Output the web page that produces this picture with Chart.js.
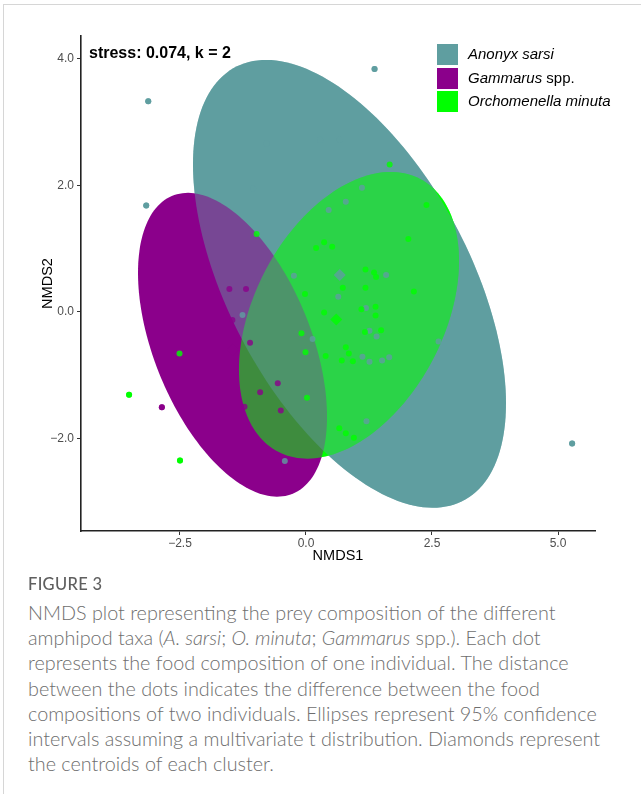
<!DOCTYPE html>
<html>
<head>
<meta charset="utf-8">
<script src="https://cdn.jsdelivr.net/npm/chart.js@4.4.1/dist/chart.umd.min.js"></script>
<style>
html,body{margin:0;padding:0;background:#fff;}
body{width:641px;height:794px;position:relative;overflow:hidden;font-family:"Liberation Sans",Arial,sans-serif;}
#frame{position:absolute;left:3px;top:4px;width:640px;height:792px;border-left:1px solid #d6d6d6;border-top:1px solid #d6d6d6;}
#chart{position:absolute;left:0;top:0;}
.stress{position:absolute;left:89px;top:45px;font:bold 16px/16px "Liberation Sans",Arial,sans-serif;color:#000;white-space:nowrap;}
.legbox{position:absolute;left:437px;width:21px;height:21px;}
.legtxt{position:absolute;left:468px;font:15px/15px "Liberation Sans",Arial,sans-serif;color:#000;white-space:nowrap;}
.fig{position:absolute;left:28px;top:575px;font:500 16.5px/18px "Lato","Open Sans",sans-serif;color:#5f5f5f;letter-spacing:0.3px;}
.cap{position:absolute;left:28px;top:600px;font:300 19.8px/25.2px "Lato","Open Sans",sans-serif;color:#6e6e6e;white-space:nowrap;}
</style>
</head>
<body>
<div id="frame"></div>
<canvas id="chart" width="641" height="575"></canvas>
<div class="stress">stress: 0.074, k = 2</div>
<div class="legbox" style="top:44px;background:rgb(95,158,160)"></div>
<div class="legbox" style="top:67.5px;background:rgb(139,0,139)"></div>
<div class="legbox" style="top:91px;background:rgb(0,255,0)"></div>
<div class="legtxt" style="top:46.3px"><i>Anonyx sarsi</i></div>
<div class="legtxt" style="top:69.8px"><i>Gammarus</i> spp.</div>
<div class="legtxt" style="top:93.3px"><i>Orchomenella minuta</i></div>
<div class="fig">FIGURE 3</div>
<div class="cap">NMDS plot representing the prey composition of the different<br>amphipod taxa (<i>A. sarsi</i>; <i>O. minuta</i>; <i>Gammarus</i> spp.). Each dot<br>represents the food composition of one individual. The distance<br>between the dots indicates the difference between the food<br>compositions of two individuals. Ellipses represent 95% confidence<br>intervals assuming a multivariate t distribution. Diamonds represent<br>the centroids of each cluster.</div>
<script>
// ---- data ----
const groups = ['Anonyx sarsi', 'Gammarus spp.', 'Orchomenella minuta'];

const anonyxX = [1.36, -3.13, -3.17, 1.11, 0.79, 0.45, 1.59, -0.24, 0.64, -1.26, 1.19, 1.26, 1.40, 0.13, 1.12, 1.26, 1.51, 1.65, 2.63, 1.20, -0.42, 5.28, -0.78, 0.28, 0.67, -1.05];
const anonyxY = [3.84, 3.33, 1.68, 1.96, 1.74, 1.61, 0.58, 0.57, 0.24, -0.05, 0.06, -0.30, -0.39, -0.43, -0.71, -0.79, -0.77, -0.72, -0.47, -1.73, -2.36, -2.08, 2.66, 2.72, 2.72, 1.95];

const gammarusX = [-1.52, -1.19, -1.46, -1.11, -0.56, -0.91, -1.22, -0.50, -2.86];
const gammarusY = [0.36, 0.36, -0.13, -0.49, -1.13, -1.27, -1.50, -1.56, -1.51];

const orchoX = [1.66, 2.39, -0.98, 0.36, 0.20, 0.52, 2.03, 1.18, 1.35, 1.39, 0.73, 1.18, 2.14, -0.02, 0.36, 1.10, 1.38, 1.38, 1.17, 1.49, -0.09, -0.01, 0.79, 0.85, 0.39, 0.71, 0.93, 0.02, 0.66, 0.79, 0.95, -2.51, -3.51, -2.50];
const orchoY = [2.33, 1.69, 1.23, 1.10, 1.01, 1.03, 1.15, 0.67, 0.62, 0.55, 0.38, 0.38, 0.32, 0.28, -0.01, 0.04, 0.08, -0.06, -0.32, -0.29, -0.34, -0.64, -0.56, -0.66, -0.70, -0.77, -0.78, -1.36, -1.84, -1.92, -1.99, -0.66, -1.31, -2.35];

// centroids (diamonds): Anonyx, Gammarus, Orchomenella
const centroidX = [0.67, -1.45, 0.60];
const centroidY = [0.58, -0.60, -0.12];

// 95% ellipses: centre and two conjugate semi-axis vectors (data units)
const ellipseCx = [0.863, -1.458, 0.853];
const ellipseCy = [0.442, -0.521, -0.055];
const ellipseAx = [3.105, 1.875, 2.183];
const ellipseAy = [-1.888, -1.137, 0.861];
const ellipseBx = [0.0, 0.0, 0.0];
const ellipseBy = [-2.994, -2.115, -2.096];

const xTickValues = [-2.5, 0, 2.5, 5.0];
const xTickLabels = ['\u22122.5', '0.0', '2.5', '5.0'];
const yTickValues = [-2, 0, 2, 4];
const yTickLabels = ['\u22122.0', '0.0', '2.0', '4.0'];

// ---- styling ----
const rgb = {teal: [95,158,160], purple: [139,0,139], green: [0,255,0]};
const col = (c, a) => `rgba(${c[0]},${c[1]},${c[2]},${a})`;

function pts(xs, ys) { return xs.map((x, i) => ({x: x, y: ys[i]})); }
function ellipseOutline(i) {
  const out = [];
  const n = 180;
  for (let k = 0; k <= n; k++) {
    const t = 2 * Math.PI * k / n;
    out.push({
      x: ellipseCx[i] + ellipseAx[i] * Math.cos(t) + ellipseBx[i] * Math.sin(t),
      y: ellipseCy[i] + ellipseAy[i] * Math.cos(t) + ellipseBy[i] * Math.sin(t)
    });
  }
  return out;
}
function ellipseDs(i, color, alpha, composite, order) {
  return {type: 'line', data: ellipseOutline(i), fill: 'shape', backgroundColor: col(color, alpha),
    borderColor: 'rgba(0,0,0,0)', borderWidth: 0, borderDash: [1, 1], pointRadius: 0, pointHoverRadius: 0, pointHitRadius: 0,
    tension: 0, showLine: true, composite: composite, order: order};
}
function pointDs(xs, ys, color, alpha, composite, order) {
  return {type: 'scatter', data: pts(xs, ys), backgroundColor: col(color, alpha), borderWidth: 0,
    pointRadius: 3, pointHoverRadius: 3, composite: composite, order: order};
}
const centroidColors = [rgb.teal, rgb.purple, rgb.green];
function centroidDs(alpha, composite, order) {
  return {type: 'scatter', data: pts(centroidX, centroidY), backgroundColor: centroidColors.map(c => col(c, alpha)),
    borderWidth: 0, pointStyle: 'rectRot', pointRadius: 6, pointHoverRadius: 6, composite: composite, order: order};
}

// later layers: opaque where nothing is drawn yet, blended where they overlap earlier layers
const compositePlugin = {
  id: 'composite',
  beforeDatasetsDraw(chart) {
    const metas = chart.getSortedVisibleDatasetMetas().slice().reverse();
    chart.ctx.globalCompositeOperation = metas.length ? (chart.data.datasets[metas[0].index].composite || 'source-over') : 'source-over';
  },
  afterDatasetDraw(chart, args) {
    const metas = chart.getSortedVisibleDatasetMetas().slice().reverse();
    const i = metas.indexOf(args.meta);
    const next = metas[i + 1];
    chart.ctx.globalCompositeOperation = next ? (chart.data.datasets[next.index].composite || 'source-over') : 'source-over';
  },
  afterDatasetsDraw(chart) { chart.ctx.globalCompositeOperation = 'source-over'; }
};

const datasets = [
  // drawn from highest order to lowest
  ellipseDs(1, rgb.purple, 1, 'source-over', 20),
  ellipseDs(2, rgb.green, 1, 'destination-over', 19),
  ellipseDs(2, rgb.green, 0.55, 'source-over', 18),
  ellipseDs(0, rgb.teal, 1, 'destination-over', 17),
  ellipseDs(0, rgb.teal, 0.45, 'source-over', 16),
  pointDs(anonyxX, anonyxY, rgb.teal, 1, 'destination-over', 15),
  pointDs(anonyxX, anonyxY, rgb.teal, 0.8, 'source-over', 14),
  pointDs(gammarusX, gammarusY, rgb.purple, 1, 'destination-over', 13),
  pointDs(gammarusX, gammarusY, rgb.purple, 0.8, 'source-over', 12),
  pointDs(orchoX, orchoY, rgb.green, 1, 'destination-over', 11),
  pointDs(orchoX, orchoY, rgb.green, 0.8, 'source-over', 10),
  centroidDs(1, 'destination-over', 9),
  centroidDs(0.8, 'source-over', 8)
];

const tickFont = {family: 'Liberation Sans', size: 12};
const titleFont = {family: 'Liberation Sans', size: 14.5};

new Chart(document.getElementById('chart'), {
  type: 'scatter',
  data: {datasets: datasets},
  plugins: [compositePlugin],
  options: {
    responsive: false,
    devicePixelRatio: 1,
    animation: false,
    events: [],
    layout: {padding: {left: 0, right: 46, top: 36, bottom: 0}},
    plugins: {legend: {display: false}, tooltip: {enabled: false}},
    scales: {
      x: {
        type: 'linear', min: -4.464, max: 5.734,
        afterBuildTicks: s => { s.ticks = xTickValues.map(v => ({value: v})); },
        afterFit: s => { s.height = 44; },
        ticks: {callback: (v, i) => xTickLabels[i], color: '#4d4d4d', font: tickFont, padding: 1, maxRotation: 0, autoSkip: false},
        grid: {drawOnChartArea: false, drawTicks: true, tickLength: 4, tickColor: '#333', tickWidth: 1},
        border: {display: true, color: '#222', width: 1.6},
        title: {display: true, text: 'NMDS1', color: '#000', font: titleFont, padding: {top: 0, bottom: 10.3}}
      },
      y: {
        type: 'linear', min: -3.465, max: 4.36,
        afterBuildTicks: s => { s.ticks = yTickValues.map(v => ({value: v})); },
        afterFit: s => { s.width = 81; },
        ticks: {callback: (v, i) => yTickLabels[i], color: '#4d4d4d', font: tickFont, padding: 3, autoSkip: false},
        grid: {drawOnChartArea: false, drawTicks: true, tickLength: 4, tickColor: '#333', tickWidth: 1},
        border: {display: true, color: '#222', width: 1.6},
        title: {display: true, text: 'NMDS2', color: '#000', font: titleFont, padding: {top: 39.3, bottom: 0}}
      }
    }
  }
});
</script>
</body>
</html>
